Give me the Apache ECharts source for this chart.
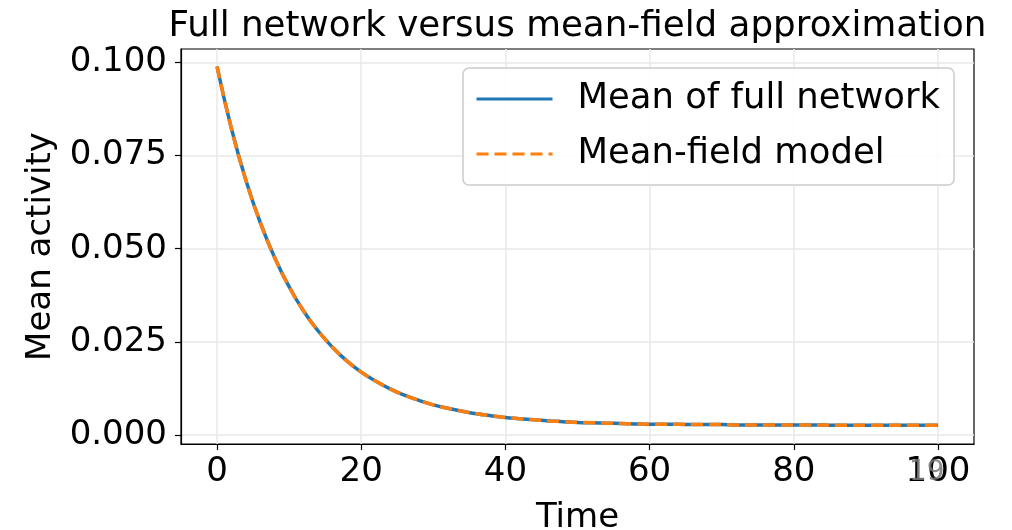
<!DOCTYPE html>
<html>
<head>
<meta charset="utf-8">
<script src="https://cdn.jsdelivr.net/npm/echarts@6/dist/echarts.min.js"></script>
<style>
html,body{margin:0;padding:0;background:#fff;}
#chart{width:1012px;height:530px;}
</style>
</head>
<body>
<div id="chart"></div>
<script>
// ---- data ----
var times = [0,2,4,6,8,10,12,14,16,18,20,22,24,26,28,30,32,34,36,38,40,42,44,46,48,50,
             52,54,56,58,60,62,64,66,68,70,72,74,76,78,80,82,84,86,88,90,92,94,96,98,100];
var fullNetworkMean = [0.0989,0.0822,0.0684,0.0570,0.0476,0.0398,0.0333,0.0280,0.0236,0.0199,
                       0.0169,0.0145,0.0124,0.0107,0.0093,0.0081,0.0072,0.0064,0.0057,0.0052,
                       0.0047,0.0044,0.0041,0.0038,0.0036,0.0034,0.0033,0.0032,0.0031,0.0030,
                       0.0029,0.0029,0.0029,0.0028,0.0028,0.0028,0.0027,0.0027,0.0027,0.0027,
                       0.0027,0.0027,0.0027,0.0026,0.0026,0.0026,0.0026,0.0026,0.0026,0.0026,0.0026];
var meanFieldModel = [0.0989,0.0822,0.0684,0.0570,0.0476,0.0398,0.0333,0.0280,0.0236,0.0199,
                      0.0169,0.0145,0.0124,0.0107,0.0093,0.0081,0.0072,0.0064,0.0057,0.0052,
                      0.0047,0.0044,0.0041,0.0038,0.0036,0.0034,0.0033,0.0032,0.0031,0.0030,
                      0.0029,0.0029,0.0029,0.0028,0.0028,0.0028,0.0027,0.0027,0.0027,0.0027,
                      0.0027,0.0027,0.0027,0.0026,0.0026,0.0026,0.0026,0.0026,0.0026,0.0026,0.0026];
var xTicks = [0,20,40,60,80,100];
var yTicks = [0,0.025,0.05,0.075,0.1];
var seriesNames = ['Mean of full network','Mean-field model'];
var titleText = 'Full network versus mean-field approximation';
var xName = 'Time';
var yName = 'Mean activity';
var overlayText = '19';

function pairs(xs, ys){ return xs.map(function(x,i){ return [x, ys[i]]; }); }

var FONT = 'DejaVu Sans';
var chart = echarts.init(document.getElementById('chart'), null, {renderer:'canvas'});
chart.setOption({
  animation: false,
  backgroundColor: '#ffffff',
  textStyle: {fontFamily: FONT},
  title: {
    text: titleText,
    left: 577.5,
    top: 9,
    textAlign: 'center',
    padding: 0,
    textStyle: {fontFamily: FONT, fontSize: 35.7, fontWeight: 'normal', color: '#000'}
  },
  grid: {
    left: 181, right: 38, top: 49, bottom: 86,
    containLabel: false, outerBoundsMode: 'none',
    show: true, borderColor: '#000', borderWidth: 1.2, backgroundColor: 'transparent'
  },
  legend: {
    orient: 'vertical',
    left: 463, top: 68,
    padding: [11, 14, 11, 12],
    itemGap: 15,
    itemWidth: 76, itemHeight: 20,
    borderColor: '#cccccc', borderWidth: 1.5, borderRadius: 6,
    backgroundColor: 'rgba(255,255,255,0.85)',
    itemStyle: {opacity: 0, borderWidth: 0},
    lineStyle: {width: 3},
    textStyle: {fontFamily: FONT, fontSize: 35.4, color: '#000', lineHeight: 40, padding: [0,0,0,20]},
    data: seriesNames
  },
  xAxis: {
    type: 'value', min: -5, max: 105,
    name: xName, nameLocation: 'middle', nameGap: 57,
    nameTextStyle: {fontFamily: FONT, fontSize: 34, color: '#000'},
    axisLine: {show: true, onZero: false, lineStyle: {color: '#000', width: 1.2}},
    axisTick: {show: true, length: 6, lineStyle: {color: '#000', width: 1.2}, customValues: xTicks},
    axisLabel: {fontFamily: FONT, fontSize: 34, color: '#000', margin: 11, customValues: xTicks,
                formatter: function(v){ return String(v); }},
    splitLine: {show: true, lineStyle: {color: '#e8e8e8', width: 1.5}}
  },
  yAxis: {
    type: 'value', min: -0.0024, max: 0.1036,
    name: yName, nameLocation: 'middle', nameGap: 123,
    nameTextStyle: {fontFamily: FONT, fontSize: 34, color: '#000'},
    axisLine: {show: true, onZero: false, lineStyle: {color: '#000', width: 1.2}},
    axisTick: {show: true, length: 6, lineStyle: {color: '#000', width: 1.2}, customValues: yTicks},
    axisLabel: {fontFamily: FONT, fontSize: 34, color: '#000', margin: 14, customValues: yTicks,
                formatter: function(v){ return v.toFixed(3); }},
    splitLine: {show: true, lineStyle: {color: '#e8e8e8', width: 1.5}}
  },
  series: [
    {
      name: seriesNames[0], type: 'line', data: pairs(times, fullNetworkMean),
      smooth: true, symbol: 'none', showSymbol: false, z: 2,
      lineStyle: {color: '#1f77b4', width: 3.5},
      itemStyle: {color: '#1f77b4'}
    },
    {
      name: seriesNames[1], type: 'line', data: pairs(times, meanFieldModel),
      smooth: true, symbol: 'none', showSymbol: false, z: 3,
      lineStyle: {color: '#ff7f0e', width: 3.5, type: [12, 6]},
      itemStyle: {color: '#ff7f0e'}
    }
  ],
  graphic: [{
    type: 'text', left: 909, top: 459, z: 100,
    style: {text: overlayText, fontFamily: FONT, fontSize: 28, fill: 'rgba(120,120,120,0.85)'}
  }]
});
</script>
</body>
</html>
